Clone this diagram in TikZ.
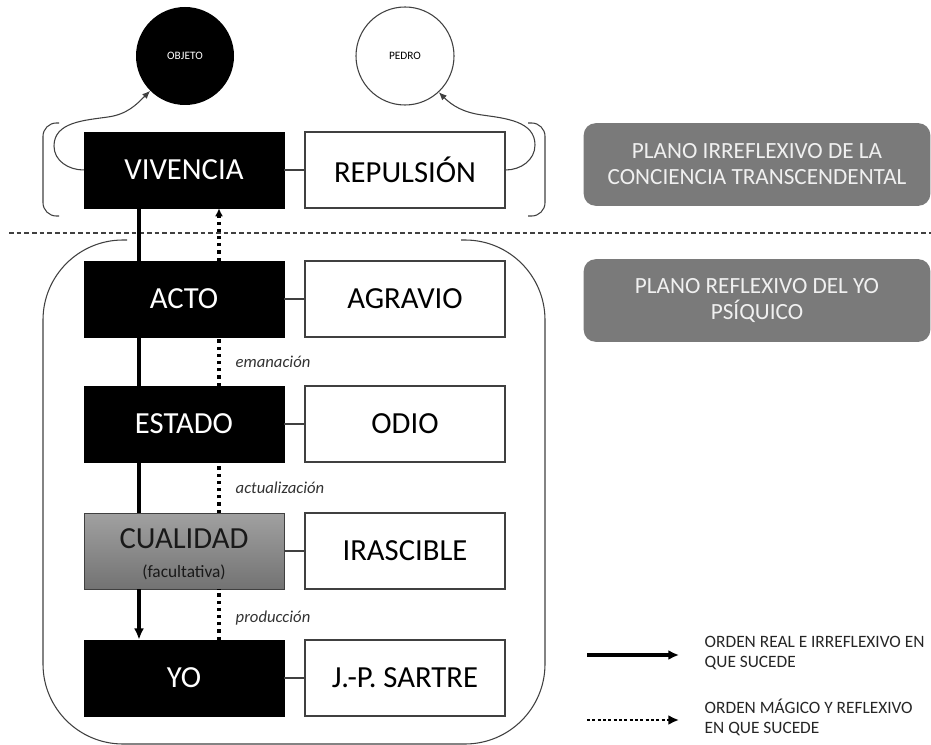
\documentclass[tikz,border=0pt]{standalone}
\usepackage{fontspec}
\setmainfont{Carlito}
\usetikzlibrary{arrows.meta}
\definecolor{linegray}{RGB}{64,64,64}
\definecolor{planegray}{RGB}{122,122,122}

\begin{document}
\begin{tikzpicture}[x=0.75pt,y=0.75pt,>=Latex,
    darkbox/.style={draw=black,fill=black,text=white,minimum width=150pt,minimum height=57pt,inner sep=0pt,font=\fontsize{23}{25}\selectfont},
    lightbox/.style={darkbox,draw=linegray,fill=white,text=black,line width=0.9pt},
    softbox/.style={darkbox,draw=linegray,top color=black!37,bottom color=black!55,text=black!90,align=center},
    plane/.style={rounded corners=9pt,fill=planegray,text=white!94!black,minimum width=260pt,minimum height=62pt,align=center,font=\fontsize{17.4}{19.5}\selectfont},
    ball/.style={circle,minimum size=73.5pt,inner sep=0pt,font=\fontsize{8.5}{10}\selectfont},
    pairline/.style={draw=linegray,line width=0.8pt},
    realline/.style={line width=2.4pt},
    magicline/.style={line width=2.4pt,dash pattern=on 2.4pt off 3pt},
    steplabel/.style={right=8pt,text=black!80,font=\fontsize{12.5}{14}\selectfont\itshape},
    legendtext/.style={align=left,text=black!85,font=\fontsize{13}{15}\selectfont}]
    \useasboundingbox (0,0) rectangle (931,-745);

    % the two circles
    \node[ball,fill=black,text=white] (obj) at (185,-56) {OBJETO};
    \node[ball,draw=linegray,line width=0.8pt] (ped) at (405,-56) {PEDRO};

    % irreflexive plane
    \node[darkbox] (viv) at (184,-170) {VIVENCIA};
    \node[lightbox] (rep) at (405,-170) {REPULSIÓN};

    % reflexive plane
    \node[darkbox] (acto) at (184,-299) {ACTO};
    \node[lightbox] (agr) at (405,-299) {AGRAVIO};
    \node[darkbox] (est) at (184,-424) {ESTADO};
    \node[lightbox] (odio) at (405,-424) {ODIO};
    \node[softbox] (cual) at (184,-551) {\rule{0pt}{20pt}CUALIDAD\\[-3pt]{\fontsize{13}{15}\selectfont(facultativa)}};
    \node[lightbox] (iras) at (405,-551) {IRASCIBLE};
    \node[darkbox] (yo) at (184,-678) {YO};
    \node[lightbox] (sar) at (405,-678) {J.-P. SARTRE};

    % lines between the pairs
    \draw[pairline] (viv) -- (rep);
    \draw[pairline] (acto) -- (agr);
    \draw[pairline] (est) -- (odio);
    \draw[pairline] (cual) -- (iras);
    \draw[pairline] (yo) -- (sar);

    % intentional arrows up to the circles
    \draw[linegray,line width=0.8pt,-{Latex[length=6pt,width=5pt]}] (viv.west) to[out=180,in=-90] (54,-146) to[out=90,in=188] (108,-117) to[out=8,in=225] (obj.225);
    \draw[linegray,line width=0.8pt,-{Latex[length=6pt,width=5pt]}] (rep.east) to[out=0,in=-90] (535,-145) to[out=90,in=-8] (482,-115) to[out=172,in=-45] (ped.313);

    % brackets of the upper plane
    \draw[linegray,line width=0.8pt,rounded corners=10pt] (59,-123) -- (43,-123) -- (43,-216) -- (59,-216);
    \draw[linegray,line width=0.8pt,rounded corners=10pt] (528,-123) -- (545,-123) -- (545,-216) -- (528,-216);

    % frame of the lower plane
    \draw[linegray,line width=0.8pt,rounded corners=60pt] (127,-240) -- (43,-240) -- (43,-744) -- (545,-744) -- (545,-240) -- (461,-240);

    % the dividing line
    \draw[linegray,line width=0.8pt,dash pattern=on 3.5pt off 2.25pt] (9,-233) -- (931,-233);

    % real order, downwards
    \coordinate (sol) at (139,0);
    \draw[realline] (viv.south -| sol) -- (acto.north -| sol);
    \draw[realline] (acto.south -| sol) -- (est.north -| sol);
    \draw[realline] (est.south -| sol) -- (cual.north -| sol);
    \draw[realline,-{Latex[length=8.5pt,width=7.5pt]}] (cual.south -| sol) -- (yo.north -| sol);

    % magic order, upwards
    \coordinate (dot) at (219,0);
    \draw[magicline] (yo.north -| dot) -- node[steplabel,pos=0.42] {producción} (cual.south -| dot);
    \draw[magicline] (cual.north -| dot) -- node[steplabel] {actualización} (est.south -| dot);
    \draw[magicline] (est.north -| dot) -- node[steplabel] {emanación} (acto.south -| dot);
    \draw[magicline,-{Latex[length=6pt,width=6pt]}] (acto.north -| dot) -- (viv.south -| dot);

    % the two planes
    \node[plane] (irr) at (757,-164.5) {PLANO IRREFLEXIVO DE LA\\CONCIENCIA TRANSCENDENTAL};
    \node[plane] (refl) at (757,-300.5) {PLANO REFLEXIVO DEL YO\\PSÍQUICO};

    % legend
    \coordinate (reala) at (587,-655);
    \coordinate (realb) at (679,-655);
    \draw[realline,-{Latex[length=8pt,width=7.5pt]}] (reala) -- (realb);
    \node[legendtext,anchor=west] (realtxt) at (700,-653) {ORDEN REAL E IRREFLEXIVO EN\\QUE SUCEDE};
    \coordinate (magica) at (587,-720);
    \coordinate (magicb) at (679,-720);
    \draw[magicline,line width=2.2pt,dash pattern=on 2.2pt off 1.8pt,-{Latex[length=8pt,width=7.5pt]}] (magica) -- (magicb);
    \node[legendtext,anchor=west] (magictxt) at (700,-717) {ORDEN MÁGICO Y REFLEXIVO\\EN QUE SUCEDE};
\end{tikzpicture}
\end{document}
